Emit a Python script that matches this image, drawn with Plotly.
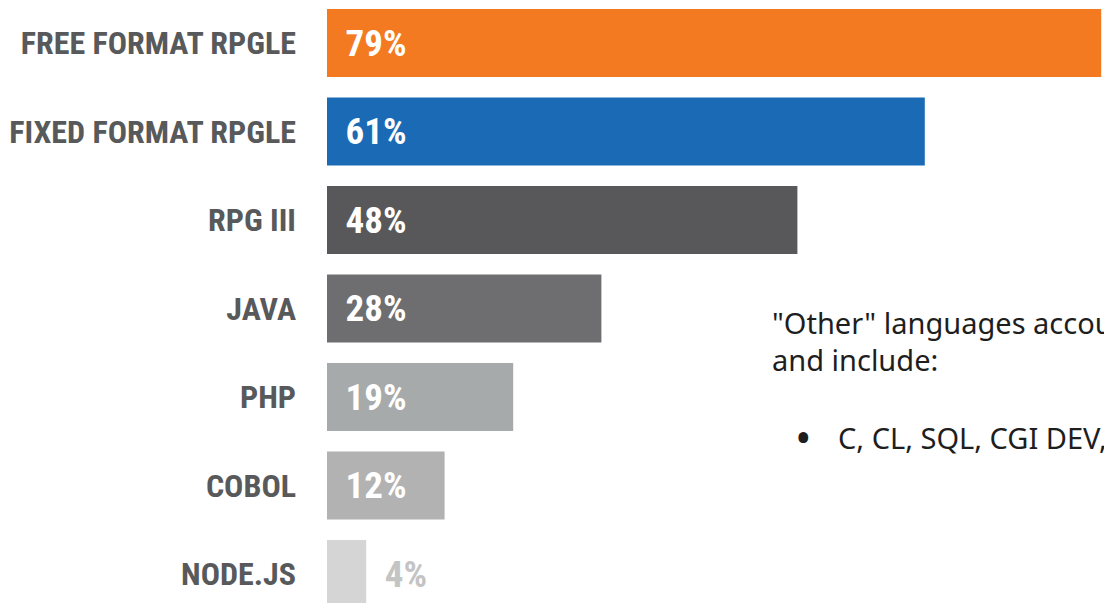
import plotly.graph_objects as go

languages = ["FREE FORMAT RPGLE", "FIXED FORMAT RPGLE", "RPG III", "JAVA", "PHP", "COBOL", "NODE.JS"]
percent = [79, 61, 48, 28, 19, 12, 4]
bar_colors = ["#F47A22", "#1A6AB5", "#58585A", "#6E6E70", "#A6AAAA", "#B2B2B3", "#D5D5D5"]
text_pos = ["inside", "inside", "inside", "inside", "inside", "inside", "outside"]
text_colors = ["white", "white", "white", "white", "white", "white", "#C4C4C4"]

note_line1 = '"Other" languages account'
note_line2 = "and include:"
note_bullet = "C, CL, SQL, CGI DEV,"

COND = "Roboto Condensed, Roboto, sans-serif"

# page is rendered with an 8px body margin; figure pixel = page pixel - 8
OFF = 8
W, H = 1112, 603
L = 327 - OFF
PX_PER_PCT = 9.8
PLOT_W = W - L
STEP = 88.5
C0 = 43 - OFF  # centre of first category, figure px


def px(page_x):
    return (page_x - OFF - L) / PLOT_W


def py(page_y):
    return 1 - (page_y - OFF) / H


fig = go.Figure(go.Bar(
    x=percent, y=languages, orientation="h",
    marker=dict(color=bar_colors, line=dict(width=0)),
    width=68 / STEP,
    text=[f"{p}%" for p in percent],
    texttemplate="\u00a0\u2009%{text}",
    textposition=text_pos,
    insidetextanchor="start",
    constraintext="none",
    textfont=dict(family=COND, size=37, color=text_colors, weight="bold"),
    cliponaxis=False,
    hoverinfo="skip",
))

fig.update_layout(
    width=W, height=H,
    margin=dict(l=L, r=0, t=0, b=0),
    paper_bgcolor="white", plot_bgcolor="white",
    showlegend=False,
    xaxis=dict(range=[0, PLOT_W / PX_PER_PCT], visible=False, showgrid=False, zeroline=False),
    yaxis=dict(
        type="category", range=[(H - C0) / STEP, -C0 / STEP],
        showgrid=False, zeroline=False, showline=False, ticks="",
        ticklabelstandoff=30,
        tickfont=dict(family=COND, size=32, color="#58595B", weight="bold"),
        automargin=False,
    ),
)

nfont = dict(family="Noto Sans, Open Sans, sans-serif", size=29, color="#1E1E1E")
fig.add_annotation(xref="paper", yref="paper", x=px(770), y=py(322), xanchor="left", yanchor="middle",
                   text=note_line1, showarrow=False, font=nfont)
fig.add_annotation(xref="paper", yref="paper", x=px(770), y=py(359), xanchor="left", yanchor="middle",
                   text=note_line2, showarrow=False, font=nfont)
fig.add_annotation(xref="paper", yref="paper", x=px(793), y=py(437), xanchor="left", yanchor="middle",
                   text="\u2022", showarrow=False, font=dict(family="Noto Sans, sans-serif", size=44, color="#1E1E1E"))
fig.add_annotation(xref="paper", yref="paper", x=px(836), y=py(437), xanchor="left", yanchor="middle",
                   text=note_bullet, showarrow=False, font=nfont)

fig.write_html("out.html")
